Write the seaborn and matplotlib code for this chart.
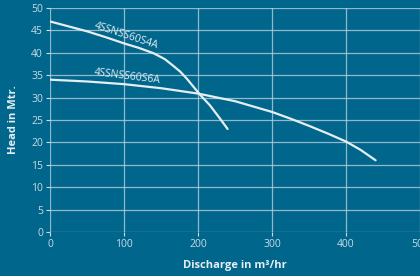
import matplotlib
matplotlib.use("Agg")
import matplotlib.pyplot as plt
import pandas as pd
import seaborn as sns

# Pump curves
q_s4a = [0, 25, 50, 75, 100, 120, 140, 155, 165, 176, 185, 195, 203, 216, 228, 240]
h_s4a = [47, 45.9, 44.8, 43.5, 42.1, 41.1, 39.9, 38.6, 37.3, 35.8, 34.2, 32.2, 30.6, 28.3, 25.7, 23]
q_s6a = [0, 50, 100, 150, 200, 250, 300, 325, 350, 375, 400, 420, 440]
h_s6a = [34, 33.6, 33.0, 32.1, 30.9, 29.2, 26.8, 25.3, 23.7, 22.0, 20.2, 18.3, 16]
series_names = ["4SSNSS60S4A", "4SSNSS60S6A"]

df = pd.concat([
    pd.DataFrame({"q": q_s4a, "h": h_s4a, "pump": series_names[0]}),
    pd.DataFrame({"q": q_s6a, "h": h_s6a, "pump": series_names[1]}),
])

bg = "#00668c"
fg = "#e6eef2"

sns.set_theme(style="dark")
plt.rcParams["font.family"] = ["Open Sans", "DejaVu Sans"]

fig = plt.figure(figsize=(4.2, 2.76), dpi=100, facecolor=bg)
ax = fig.add_axes([50 / 420, 44 / 276, 370 / 420, 224 / 276])
ax.set_facecolor(bg)

sns.lineplot(data=df, x="q", y="h", hue="pump", palette=[fg, fg],
             linewidth=1.6, legend=False, ax=ax, sort=False)

ax.set_xlim(0, 500)
ax.set_ylim(0, 50)
ax.set_xticks(range(0, 501, 100))
ax.set_yticks(range(0, 51, 5))
ax.grid(True, color="#b8cfdb", linewidth=0.9, alpha=0.8)
for s in ax.spines.values():
    s.set_visible(False)
ax.tick_params(colors="#c9dbe4", labelsize=7.5, length=3, width=0.8,
               direction="out", left=True, bottom=True, pad=2)

ax.set_xlabel("Discharge in m³/hr", color=fg, fontsize=8, fontweight="bold", labelpad=7)
ax.set_ylabel("Head in Mtr.", color=fg, fontsize=8, fontweight="bold", labelpad=9)

ax.text(103, 43.8, series_names[0], color=fg, fontsize=7.5, rotation=-18,
        ha="center", va="center", rotation_mode="anchor")
ax.text(104, 34.6, series_names[1], color=fg, fontsize=7.5, rotation=-7,
        ha="center", va="center", rotation_mode="anchor")

fig.savefig("out.png", dpi=100, facecolor=bg)
